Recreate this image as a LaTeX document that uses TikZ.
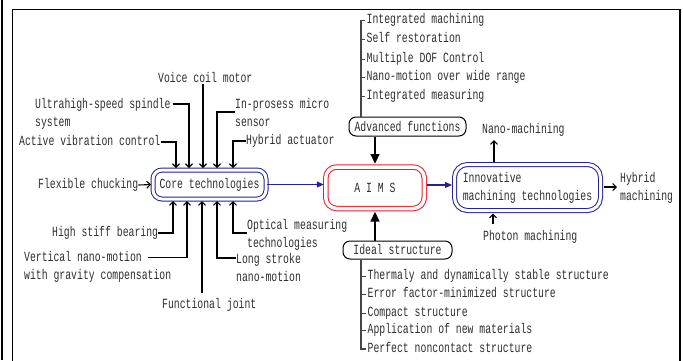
\documentclass[tikz,border=0pt]{standalone}
\usepackage{fontspec}
\newfontfamily\df[FakeStretch=0.70]{Liberation Mono}
\usetikzlibrary{arrows.meta,calc}
\definecolor{txt}{RGB}{45,45,45}
\definecolor{blu}{RGB}{35,35,145}
\definecolor{rd}{RGB}{232,30,45}
\definecolor{brk}{RGB}{70,70,70}
\newcommand{\tl}[2]{\begin{tabular}[t]{@{}l@{}}#1\\#2\end{tabular}}
\begin{document}
\begin{tikzpicture}[x=1pt,y=-1pt,
  every node/.style={font=\df\fontsize{14}{18}\selectfont, text=txt, inner sep=0pt},
  lbl/.style={anchor=west, text height=8pt, text depth=2pt},
  ml/.style={anchor=base west},
  con/.style={draw=black, line width=1.1pt, -{Straight Barb[length=3.5pt,width=7pt]}},
  dbl/.style={draw, line width=1pt, double=white, double distance=3pt, rounded corners=9pt},
  sbox/.style={draw=black, line width=1pt, rounded corners=7pt},
  barrow/.style={draw=blu, line width=1.1pt, -{Triangle[length=7pt,width=6pt]}},
  thk/.style={draw=black, line width=2.6pt, -{Triangle[length=10pt,width=8.5pt]}, shorten >=2pt},
  brkl/.style={draw=brk, line width=1.3pt}
]
\useasboundingbox (0,0) rectangle (683,360);
% frame
\draw[line width=2pt] (1.5,0) -- (1.5,360);
\draw[line width=1.5pt] (12.5,365) -- (12.5,9.5) -- (680,9.5) -- (680,365);

% main boxes
\node[dbl, draw=blu, minimum width=113pt, minimum height=29pt] (core) at (209.5,184.5) {Core technologies};
\node[dbl, draw=rd, double distance=3.5pt, rounded corners=11pt, minimum width=98.5pt, minimum height=41.5pt] (aims) at (375,187.75) {A I M S};
\node[dbl, draw=blu, rounded corners=13pt, minimum width=146pt, minimum height=46pt, align=left] (inn) at (527.5,187.5) {Innovative\\machining technologies};
\node[sbox, minimum width=117pt, minimum height=19pt] (adv) at (407.5,126.5) {Advanced functions};
\node[sbox, minimum width=109pt, minimum height=18pt] (ideal) at (397.5,250) {Ideal structure};

% labels around core
\node[lbl] (avc) at (19,142) {Active vibration control};
\node[ml] (uss) at (35,108) {\tl{Ultrahigh-speed spindle}{system}};
\node[lbl] (vcm) at (158,79) {Voice coil motor};
\node[ml] (ipm) at (235,108) {\tl{In-prosess micro}{sensor}};
\node[lbl] (ha) at (246,141) {Hybrid actuator};
\node[lbl] (fc) at (38,185) {Flexible chucking};
\node[lbl] (hsb) at (52,233) {High stiff bearing};
\node[ml] (vnm) at (24,261.5) {\tl{Vertical nano-motion}{with gravity compensation}};
\node[lbl] (fj) at (162,305) {Functional joint};
\node[ml] (ls) at (236,263) {\tl{Long stroke}{nano-motion}};
\node[ml] (om) at (247,229) {\tl{Optical measuring}{technologies}};

% labels around innovative
\node[lbl] (nm) at (482,130) {Nano-machining};
\node[lbl] (pm) at (483,237) {Photon machining};
\node[ml] (hm) at (620,182) {\tl{Hybrid}{machining}};

% advanced function items
\node[lbl] (ai1) at (366.5,20.7) {Integrated machining};
\node[lbl] (ai2) at (366.5,39.3) {Self restoration};
\node[lbl] (ai3) at (366.5,59.3) {Multiple DOF Control};
\node[lbl] (ai4) at (366.5,77.7) {Nano-motion over wide range};
\node[lbl] (ai5) at (366.5,96.7) {Integrated measuring};

% ideal structure items
\node[lbl] (ii1) at (367.5,276.7) {Thermaly and dynamically stable structure};
\node[lbl] (ii2) at (367.5,294.7) {Error factor-minimized structure};
\node[lbl] (ii3) at (367.5,313.3) {Compact structure};
\node[lbl] (ii4) at (367.5,330.7) {Application of new materials};
\node[lbl] (ii5) at (367.5,349) {Perfect noncontact structure};

% helper coordinates
\coordinate (t1) at (176,0);
\coordinate (t2) at (189,0);
\coordinate (t3) at (203,0);
\coordinate (t4) at (217,0);
\coordinate (t5) at (233,0);
\coordinate (b1) at (173,0);
\coordinate (b2) at (187,0);
\coordinate (b3) at (202,0);
\coordinate (b4) at (217,0);
\coordinate (b5) at (233,0);
\coordinate (ay) at (0,185);
\coordinate (nA) at (494,140);
\coordinate (pA) at (493,224);
\coordinate (hA) at (617,187);
\coordinate (ab) at (361,0);

% connectors into core (top)
\draw[con, shorten >=1.5pt] (avc.east) -| (t1 |- core.north);
\draw[con, shorten >=1.5pt] ([xshift=2pt,yshift=4pt]uss.base east) -| (t2 |- core.north);
\draw[con, shorten >=1.5pt] (vcm.south -| t3) -- (t3 |- core.north);
\draw[con, shorten >=1.5pt] ([yshift=-4pt]ipm.base west) -| (t4 |- core.north);
\draw[con, shorten >=1.5pt] (ha.west) -| (t5 |- core.north);
\draw[con, shorten >=1.5pt] (fc.east) -- (core.west);
% connectors into core (bottom)
\draw[con, shorten >=1.5pt] (hsb.east) -| (b1 |- core.south);
\draw[con, shorten >=1.5pt] ([xshift=124pt,yshift=4pt]vnm.base west) -| (b2 |- core.south);
\draw[con, shorten >=1.5pt] ($(b3 |- fj.north)+(0,-7)$) -- (b3 |- core.south);
\draw[con, shorten >=1.5pt] ([yshift=5pt]ls.base west) -| (b4 |- core.south);
\draw[con, shorten >=1.5pt] ([yshift=-4pt]om.base west) -| (b5 |- core.south);

% blue flow
\draw[barrow, shorten >=1.5pt] (core.east) -- (core.east -| aims.west);
\draw[barrow, shorten <=2pt, shorten >=2pt] (aims.east |- ay) -- (inn.west |- ay);

% thick arrows
\draw[thk, shorten >=2.5pt] (aims.north |- adv.south) -- (aims.north);
\draw[thk, shorten >=2.5pt] (aims.south |- ideal.north) -- (aims.south);

% innovative connectors
\draw[con, shorten <=2.5pt] (nA |- inn.north) -- (nA);
\draw[con, shorten >=2.5pt] (pA) -- (pA |- inn.south);
\draw[con, shorten <=2.5pt] (inn.east |- hA) -- (hA);

% brackets
\draw[brkl] ([xshift=-2pt]ai1.west) -| (ab |- adv.north);
\foreach \k in {2,3,4,5} {\draw[brkl] ([xshift=-2pt]ai\k.west) -- (ab |- ai\k.west);}
\draw[brkl] (ab |- ideal.south) |- ([xshift=-2pt]ii5.west);
\foreach \k in {1,2,3,4} {\draw[brkl] ([xshift=-2pt]ii\k.west) -- (ab |- ii\k.west);}
\end{tikzpicture}
\end{document}
